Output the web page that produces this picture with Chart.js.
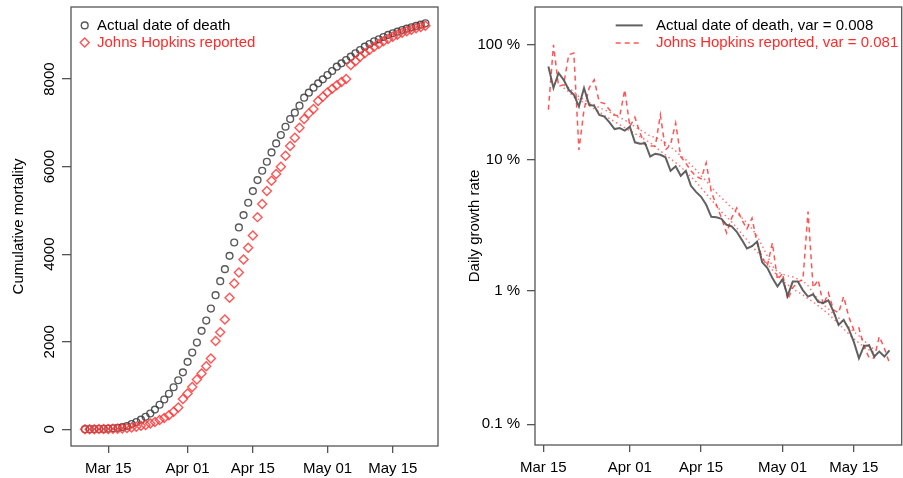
<!DOCTYPE html>
<html>
<head>
<meta charset="utf-8">
<script src="https://cdn.jsdelivr.net/npm/chart.js@4.4.1/dist/chart.umd.min.js"></script>
<style>
  body { margin: 0; background: #fff; }
  #wrap { position: relative; width: 903px; height: 478px; }
  .panel { position: absolute; top: 0; height: 478px; }
</style>
</head>
<body>
<div id="wrap">
  <div class="panel" style="left:0;width:450px"><canvas id="cumChart"></canvas></div>
  <div class="panel" style="left:450px;width:453px"><canvas id="rateChart"></canvas></div>
</div>
<script>
// days are counted from Mar 15 (= 0)
const dateTickDays = [0, 17, 31, 47, 61];
const dateTickLabels = ['Mar 15', 'Apr 01', 'Apr 15', 'May 01', 'May 15'];

// left panel: cumulative mortality, Mar 10 .. May 22
const cumFirstDay = -5;
const actualCum = [2, 3, 4, 6, 9, 14, 23, 33, 50, 75, 120, 165, 220, 285, 360, 450, 560, 680, 810, 960,
  1120, 1300, 1540, 1753, 1981, 2248, 2484, 2758, 3063, 3383, 3658, 3962, 4267, 4610, 4892, 5174, 5441,
  5692, 5906, 6111, 6325, 6530, 6721, 6911, 7087, 7231, 7391, 7574, 7689, 7803, 7902, 7993, 8092, 8184,
  8283, 8359, 8435, 8511, 8588, 8664, 8740, 8801, 8862, 8908, 8961, 9007, 9045, 9083, 9121, 9152, 9182,
  9213, 9243, 9274];
const jhCum = [1, 2, 3, 4, 5, 7, 10, 14, 20, 30, 42, 58, 78, 100, 130, 165, 210, 260, 320, 400, 500, 693,
  815, 968, 1135, 1273, 1440, 1615, 2019, 2217, 2507, 3002, 3330, 3581, 3879, 4145, 4427, 4846, 5144,
  5441, 5677, 5829, 5997, 6248, 6469, 6660, 6888, 7087, 7216, 7315, 7498, 7597, 7696, 7780, 7856, 7932,
  8001, 8321, 8405, 8511, 8588, 8664, 8740, 8801, 8862, 8915, 8968, 9014, 9060, 9090, 9128, 9159, 9190,
  9220];
const cumTicks = [0, 2000, 4000, 6000, 8000];

// right panel: daily log growth, Mar 16 .. May 22
const rateFirstDay = 1;
const actualRate = [0.477, 0.329, 0.426, 0.379, 0.319, 0.293, 0.239, 0.329, 0.246, 0.242,
  0.207, 0.201, 0.182, 0.162, 0.165, 0.158, 0.169, 0.129, 0.126, 0.127,
  0.101, 0.106, 0.104, 0.0996, 0.0789, 0.0853, 0.0724, 0.0789, 0.0609, 0.0549,
  0.0504, 0.0439, 0.0357, 0.0354, 0.0345, 0.0311, 0.0303, 0.0276, 0.0240, 0.0207,
  0.0215, 0.0233, 0.0163, 0.0148, 0.01246, 0.01076, 0.01215, 0.00914, 0.01169, 0.01169,
  0.01005, 0.00903, 0.00938, 0.00824, 0.00810, 0.00846, 0.00697, 0.00554, 0.00604, 0.00517,
  0.00413, 0.00312, 0.00386, 0.00389, 0.00321, 0.00350, 0.00321, 0.00357];
const jhRate = [0.226, 0.693, 0.338, 0.348, 0.584, 0.601, 0.113, 0.226, 0.329, 0.379,
  0.258, 0.252, 0.226, 0.207, 0.201, 0.319, 0.169, 0.199, 0.151, 0.124,
  0.121, 0.121, 0.207, 0.113, 0.124, 0.180, 0.1005, 0.0901, 0.0789, 0.0718,
  0.0688, 0.0906, 0.0549, 0.0439, 0.0351, 0.0271, 0.0351, 0.0415, 0.0339, 0.0290,
  0.0349, 0.0228, 0.0176, 0.0153, 0.0228, 0.01204, 0.01351, 0.00853, 0.01049, 0.01163,
  0.01204, 0.0391, 0.01049, 0.01204, 0.00782, 0.00962, 0.00718, 0.00682, 0.00903, 0.00639,
  0.00508, 0.00526, 0.00381, 0.00314, 0.00313, 0.00453, 0.00371, 0.00286];
// dotted smoothed lines, Mar 19 .. May 19
const smoothFirstDay = 4;
const jhSmooth = [0.348, 0.330, 0.308, 0.283, 0.269, 0.255, 0.2465, 0.234, 0.226, 0.218,
  0.204, 0.197, 0.190, 0.178, 0.169, 0.160, 0.152, 0.144, 0.140, 0.135,
  0.128, 0.119, 0.111, 0.102, 0.0955, 0.0876, 0.0803, 0.0724, 0.0664, 0.0599,
  0.0540, 0.0496, 0.0455, 0.0417, 0.0383, 0.0351, 0.0322, 0.0290, 0.0257, 0.0216,
  0.0182, 0.0153, 0.0138, 0.0133, 0.0129, 0.0127, 0.0122, 0.0118, 0.0109, 0.00963,
  0.00853, 0.00783, 0.00730, 0.00670, 0.00626, 0.00584, 0.00535, 0.00492, 0.00459, 0.00421,
  0.00393, 0.00360];
const actualSmooth = [0.330, 0.308, 0.283, 0.269, 0.255, 0.242, 0.230, 0.218, 0.204, 0.194,
  0.184, 0.175, 0.166, 0.157, 0.150, 0.142, 0.135, 0.128, 0.119, 0.111,
  0.104, 0.0971, 0.0907, 0.0846, 0.0776, 0.0712, 0.0653, 0.0589, 0.0531, 0.0479,
  0.0432, 0.0389, 0.0357, 0.0328, 0.0295, 0.0266, 0.0240, 0.0216, 0.0195, 0.0176,
  0.0159, 0.0143, 0.0129, 0.0118, 0.0111, 0.0103, 0.00980, 0.00930, 0.00868, 0.00824,
  0.00769, 0.00718, 0.00670, 0.00615, 0.00564, 0.00517, 0.00475, 0.00436, 0.00406, 0.00379,
  0.00360, 0.00342];
const rateTickValues = [Math.log(2), Math.log(1.1), Math.log(1.01), Math.log(1.001)];
const rateTickLabels = ['100 %', '10 %', '1 %', '0.1 %'];

const FONT = '"Liberation Sans", Arial, Helvetica, sans-serif';
Chart.defaults.font.family = FONT;
Chart.defaults.font.size = 15;
Chart.defaults.color = '#000';

const RED = 'rgba(255,55,55,0.85)';
const GRAY = 'rgba(60,60,60,0.85)';

function toPoints(arr, start) {
  return arr.map((v, i) => ({ x: start + i, y: v }));
}

const boxPlugin = {
  id: 'box',
  afterDraw(chart) {
    const a = chart.chartArea, ctx = chart.ctx;
    ctx.save();
    ctx.strokeStyle = '#555';
    ctx.lineWidth = 1.3;
    ctx.strokeRect(a.left, a.top, a.right - a.left, a.bottom - a.top);
    ctx.restore();
  }
};

// legend drawn inside the plot box, like the R figure
const insetLegend = {
  id: 'insetLegend',
  afterDraw(chart, args, opts) {
    const a = chart.chartArea, ctx = chart.ctx;
    ctx.save();
    ctx.font = '15px ' + FONT;
    ctx.textBaseline = 'middle';
    opts.items.forEach((it, i) => {
      const y = a.top + opts.top + i * opts.gap;
      const x = a.left + opts.left;
      ctx.strokeStyle = it.color;
      ctx.lineWidth = it.width;
      ctx.beginPath();
      if (it.marker === 'circle') {
        ctx.arc(x, y, 3.4, 0, Math.PI * 2);
      } else if (it.marker === 'diamond') {
        ctx.moveTo(x, y - 4.5); ctx.lineTo(x + 4.5, y); ctx.lineTo(x, y + 4.5); ctx.lineTo(x - 4.5, y); ctx.closePath();
      } else {
        ctx.setLineDash(it.dash || []);
        ctx.moveTo(x, y); ctx.lineTo(x + opts.sample, y);
      }
      ctx.stroke();
      ctx.setLineDash([]);
      ctx.fillStyle = it.textColor;
      ctx.fillText(chart.data.datasets[i].label, a.left + opts.textLeft, y);
    });
    ctx.restore();
  }
};

function dateAxis(min, max, height) {
  return {
    type: 'linear', min: min, max: max, bounds: 'data',
    afterBuildTicks: s => { s.ticks = dateTickDays.map(v => ({ value: v })); },
    afterFit: s => { s.height = height; s.paddingLeft = 0; s.paddingRight = 0; },
    ticks: { callback: (v, i) => dateTickLabels[i], autoSkip: false, maxRotation: 0, padding: 7 },
    grid: { drawOnChartArea: false, tickLength: 7, color: '#555', lineWidth: 1.3 },
    border: { display: false }
  };
}

new Chart(document.getElementById('cumChart'), {
  type: 'scatter',
  data: {
    datasets: [{
      label: 'Actual date of death',
      data: toPoints(actualCum, cumFirstDay),
      pointStyle: 'circle', pointRadius: 3.4, pointBorderWidth: 1.4,
      pointBorderColor: GRAY, pointBackgroundColor: 'rgba(0,0,0,0)',
      order: 1
    }, {
      label: 'Johns Hopkins reported',
      data: toPoints(jhCum, cumFirstDay),
      pointStyle: 'rectRot', pointRadius: 4.5, pointBorderWidth: 1.4,
      pointBorderColor: RED, pointBackgroundColor: 'rgba(0,0,0,0)',
      order: 0
    }]
  },
  options: {
    responsive: true, maintainAspectRatio: false, animation: false,
    layout: { padding: { top: 7, right: 12, left: 0, bottom: 0 } },
    plugins: {
      legend: { display: false }, tooltip: { enabled: false },
      insetLegend: {
        left: 13.7, textLeft: 26, top: 18.4, gap: 17,
        items: [
          { marker: 'circle', color: GRAY, width: 1.4, textColor: '#000' },
          { marker: 'diamond', color: RED, width: 1.4, textColor: '#ff2a2a' }
        ]
      }
    },
    scales: {
      x: dateAxis(-8, 70.7, 32),
      y: {
        min: -382, max: 9646, bounds: 'data',
        afterBuildTicks: s => { s.ticks = cumTicks.map(v => ({ value: v })); },
        afterFit: s => { s.width = 71; s.paddingTop = 0; s.paddingBottom = 0; },
        ticks: { callback: v => String(v), minRotation: 90, maxRotation: 90, crossAlign: 'center', padding: -5, autoSkip: false },
        title: { display: true, text: 'Cumulative mortality', padding: { top: 10, bottom: 0 } },
        grid: { drawOnChartArea: false, tickLength: 9, color: '#555', lineWidth: 1.3 },
        border: { display: false }
      }
    }
  },
  plugins: [boxPlugin, insetLegend]
});

new Chart(document.getElementById('rateChart'), {
  type: 'line',
  data: {
    datasets: [{
      label: 'Actual date of death, var = 0.008',
      data: toPoints(actualRate, rateFirstDay),
      borderColor: 'rgba(80,80,80,0.9)', borderWidth: 2, pointRadius: 0, order: 0
    }, {
      label: 'Johns Hopkins reported, var = 0.081',
      data: toPoints(jhRate, rateFirstDay),
      borderColor: RED, borderWidth: 1.5, borderDash: [5, 4], pointRadius: 0, order: 1
    }, {
      label: 'Johns Hopkins smoothed',
      data: toPoints(jhSmooth, smoothFirstDay),
      borderColor: 'rgba(255,70,70,0.75)', borderWidth: 1.5, borderDash: [1.5, 3], pointRadius: 0, order: 2
    }, {
      label: 'Actual smoothed',
      data: toPoints(actualSmooth, smoothFirstDay),
      borderColor: 'rgba(255,70,70,0.75)', borderWidth: 1.5, borderDash: [1.5, 3], pointRadius: 0, order: 3
    }]
  },
  options: {
    responsive: true, maintainAspectRatio: false, animation: false,
    layout: { padding: { top: 7, right: 1.3, left: 0, bottom: 0 } },
    plugins: {
      legend: { display: false }, tooltip: { enabled: false },
      insetLegend: {
        left: 80.7, sample: 27, textLeft: 121, top: 18.4, gap: 17.5,
        items: [
          { marker: 'line', color: 'rgba(80,80,80,0.9)', width: 2, textColor: '#000' },
          { marker: 'line', color: RED, width: 1.5, dash: [5, 4], textColor: '#ff2a2a' }
        ]
      }
    },
    scales: {
      x: dateAxis(-1.63, 70.4, 33),
      y: {
        type: 'logarithmic', min: 0.000699, max: 1.329, bounds: 'data',
        afterBuildTicks: s => { s.ticks = rateTickValues.map(v => ({ value: v })); },
        afterFit: s => { s.width = 85; s.paddingTop = 0; s.paddingBottom = 0; },
        ticks: { callback: (v, i) => rateTickLabels[i], autoSkip: false, padding: 7 },
        title: { display: true, text: 'Daily growth rate', padding: { top: 16, bottom: 0 } },
        grid: { drawOnChartArea: false, tickLength: 8, color: '#555', lineWidth: 1.3 },
        border: { display: false }
      }
    }
  },
  plugins: [boxPlugin, insetLegend]
});
</script>
</body>
</html>
